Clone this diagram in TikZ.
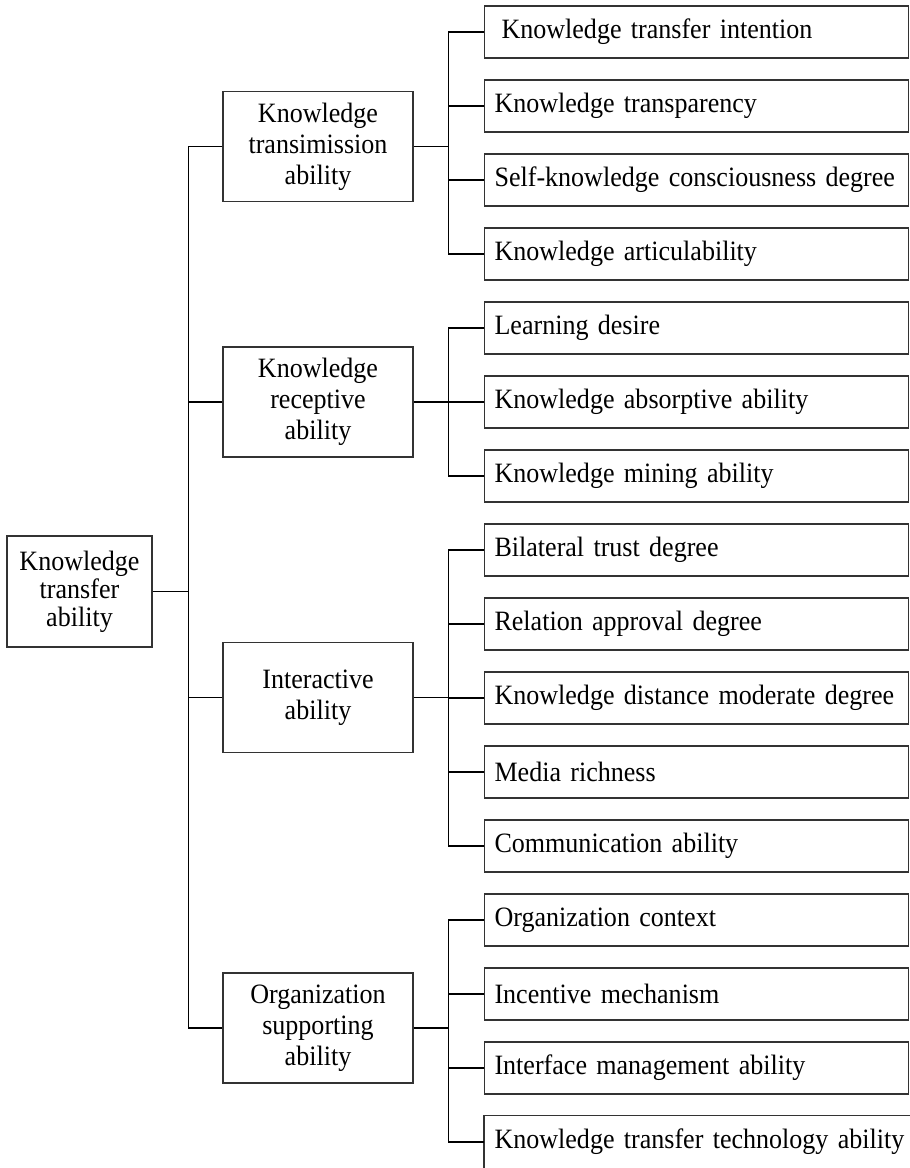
\documentclass[tikz,border=0pt]{standalone}
\usepackage{fontspec}
\setmainfont{Liberation Serif}[FakeStretch=0.93,WordSpace=0.75]
\begin{document}
\begin{tikzpicture}[x=1pt,y=-1pt,
  box/.style={draw=black!80,line width=1.1pt,rectangle,inner sep=0pt},
  leafbox/.style={box,anchor=west,minimum height=52pt,text width=404pt,inner xsep=10pt,align=left,font=\fontsize{28}{31}\selectfont},
  midbox/.style={box,minimum width=190pt,minimum height=110pt,align=center,font=\fontsize{28}{31}\selectfont},
  rootbox/.style={box,minimum width=145pt,minimum height=111pt,align=center,font=\fontsize{28}{28}\selectfont},
  conn/.style={line width=1.9pt,black}]
\useasboundingbox (0,0) rectangle (910,1168);
\clip (0,0) rectangle (910,1168);
\node[rootbox] (root) at (79.5,591.5) {Knowledge\\transfer\\ability};
\node[midbox] (m1) at (318,146.5) {Knowledge\\transimission\\ability};
\node[midbox] (m2) at (318,402) {Knowledge\\receptive\\ability};
\node[midbox] (m3) at (318,697.5) {Interactive\\ability};
\node[midbox] (m4) at (318,1028) {Organization\\supporting\\ability};
\node[leafbox] (l1) at (484,32) {\hspace{7pt}Knowledge transfer intention};
\node[leafbox] (l2) at (484,106) {Knowledge transparency};
\node[leafbox] (l3) at (484,180) {Self-knowledge consciousness degree};
\node[leafbox] (l4) at (484,254) {Knowledge articulability};
\node[leafbox] (l5) at (484,328) {Learning desire};
\node[leafbox] (l6) at (484,402) {Knowledge absorptive ability};
\node[leafbox] (l7) at (484,476) {Knowledge mining ability};
\node[leafbox] (l8) at (484,550) {Bilateral trust degree};
\node[leafbox] (l9) at (484,624) {Relation approval degree};
\node[leafbox] (l10) at (484,698) {Knowledge distance moderate degree};
\node[leafbox] (l11) at (484,772) {Media richness};
\node[leafbox] (l12) at (484,846) {Communication ability};
\node[leafbox] (l13) at (484,920) {Organization context};
\node[leafbox] (l14) at (484,994) {Incentive mechanism};
\node[leafbox] (l15) at (484,1068) {Interface management ability};
\node[leafbox,draw=none,text width=424pt] (l16) at (484,1142) {Knowledge transfer technology ability};
\draw[draw=black!80,line width=1.1pt] (l16.south west) -- (l16.north west) -- (l16.north east);
\coordinate (t) at (188.5,0);
\coordinate (b) at (448.5,0);
\draw[conn] (root.east) -- (root.east -| t);
\draw[conn] (m1.west) -- (m1.west -| t) -- (m4.west -| t) -- (m4.west);
\draw[conn] (m2.west) -- (m2.west -| t);
\draw[conn] (m3.west) -- (m3.west -| t);
\draw[conn] (m1.east) -- (m1.east -| b);
\draw[conn] (m2.east) -- (m2.east -| b);
\draw[conn] (m3.east) -- (m3.east -| b);
\draw[conn] (m4.east) -- (m4.east -| b);
\draw[conn] (l1.west) -- (l1.west -| b) -- (l4.west -| b) -- (l4.west);
\draw[conn] (l2.west) -- (l2.west -| b);
\draw[conn] (l3.west) -- (l3.west -| b);
\draw[conn] (l5.west) -- (l5.west -| b) -- (l7.west -| b) -- (l7.west);
\draw[conn] (l6.west) -- (l6.west -| b);
\draw[conn] (l8.west) -- (l8.west -| b) -- (l12.west -| b) -- (l12.west);
\draw[conn] (l9.west) -- (l9.west -| b);
\draw[conn] (l10.west) -- (l10.west -| b);
\draw[conn] (l11.west) -- (l11.west -| b);
\draw[conn] (l13.west) -- (l13.west -| b) -- (l16.west -| b) -- (l16.west);
\draw[conn] (l14.west) -- (l14.west -| b);
\draw[conn] (l15.west) -- (l15.west -| b);
\end{tikzpicture}
\end{document}
